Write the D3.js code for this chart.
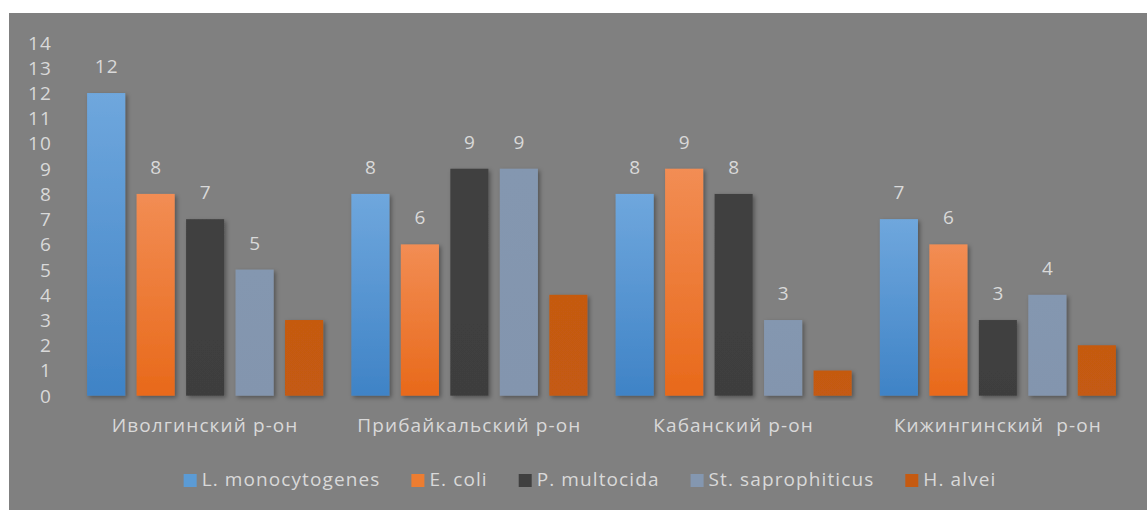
<!DOCTYPE html>
<html><head><meta charset="utf-8">
<script src="https://cdn.jsdelivr.net/npm/d3@7"></script>
<style>
html,body{margin:0;padding:0;background:#fff;}
svg{display:block;}
text{font-family:"Open Sans","Noto Sans",sans-serif;fill:#d9d9d9;letter-spacing:1.1px;}
</style></head>
<body>
<svg id="chart" width="1147" height="512"></svg>
<script>
const categories = ["Иволгинский р-он", "Прибайкальский р-он", "Кабанский р-он", "Кижингинский  р-он"];
const seriesNames = ["L. monocytogenes", "E. coli", "P. multocida", "St. saprophiticus", "H. alvei"];
const lMono = [12, 8, 8, 7];
const eColi = [8, 6, 9, 6];
const pMult = [7, 9, 8, 3];
const stSap = [5, 9, 3, 4];
const hAlvei = [3, 4, 1, 2];
const yTicks = [0,1,2,3,4,5,6,7,8,9,10,11,12,13,14];
const showLabels = [true, true, true, true, false];

const seriesValues = [lMono, eColi, pMult, stSap, hAlvei];
const colorsTop = ["#6fa7dd", "#f28d54", "#414141", "#8497b0", "#c55a11"];
const colorsBot = ["#3f83c6", "#e8691a", "#3e3e3e", "#8395ae", "#c45a12"];
const legendColors = ["#5b9bd5", "#ed7d31", "#404040", "#8497b0", "#c55a11"];

const svg = d3.select("#chart");
const W = 1147, H = 512;
const FS = 19;

// background panel
svg.append("rect").attr("x", 9).attr("y", 13).attr("width", W - 9).attr("height", 497).attr("fill", "#808080");

const defs = svg.append("defs");
seriesNames.forEach((s, i) => {
  const g = defs.append("linearGradient").attr("id", "g" + i).attr("x1", 0).attr("y1", 0).attr("x2", 0).attr("y2", 1);
  g.append("stop").attr("offset", "0%").attr("stop-color", colorsTop[i]);
  g.append("stop").attr("offset", "100%").attr("stop-color", colorsBot[i]);
});
const f = defs.append("filter").attr("id", "sh").attr("x", "-30%").attr("y", "-10%").attr("width", "160%").attr("height", "130%");
f.append("feDropShadow").attr("dx", 2).attr("dy", 2).attr("stdDeviation", 2).attr("flood-color", "#000").attr("flood-opacity", 0.35);

const x0 = d3.scaleBand().domain(categories).range([73, 1130]).padding(0);
const x1 = d3.scaleBand().domain(seriesNames).range([0, x0.bandwidth()]).paddingInner(0.23).paddingOuter(0.285);
const y = d3.scaleLinear().domain([0, 14]).range([395.7, 42.6]);

// y axis labels
const yAxis = d3.axisLeft(y).tickValues(yTicks).tickSize(0).tickPadding(0).tickFormat(d3.format("d"));
const ya = svg.append("g").attr("transform", "translate(52,0)").call(yAxis);
ya.select(".domain").remove();
ya.selectAll("text").attr("font-size", FS).attr("fill", "#d9d9d9").attr("font-family", "'Open Sans'").attr("dy", "0.34em");

// bars
const groups = svg.append("g").selectAll("g").data(categories).join("g")
  .attr("transform", d => `translate(${x0(d)},0)`);
groups.each(function(cat, ci) {
  const g = d3.select(this);
  seriesNames.forEach((s, si) => {
    const v = seriesValues[si][ci];
    g.append("rect")
      .attr("x", x1(s)).attr("y", y(v))
      .attr("width", x1.bandwidth()).attr("height", y(0) - y(v))
      .attr("fill", `url(#g${si})`).attr("filter", "url(#sh)");
    if (showLabels[si]) {
      g.append("text")
        .attr("x", x1(s) + x1.bandwidth() / 2 + 0.5).attr("y", y(v) - 20)
        .attr("text-anchor", "middle").attr("font-size", FS).text(v);
    }
  });
});

// category axis labels
const xAxis = d3.axisBottom(x0).tickSize(0).tickPadding(0);
const xa = svg.append("g").attr("transform", "translate(0,425.7)").call(xAxis);
xa.select(".domain").remove();
xa.selectAll("text").attr("font-size", FS).attr("fill", "#d9d9d9").attr("font-family", "'Open Sans'").attr("dy", "0.34em").style("white-space", "pre");

// legend
const leg = svg.append("g");
let cx = 0;
seriesNames.forEach((s, i) => {
  const it = leg.append("g");
  it.append("rect").attr("x", 0).attr("y", -6).attr("width", 13).attr("height", 13).attr("fill", legendColors[i]);
  const t = it.append("text").attr("x", 18).attr("y", 0).attr("dy", "0.34em").attr("font-size", FS).text(s);
  const w = 18 + t.node().getComputedTextLength();
  it.attr("transform", `translate(${cx},0)`);
  cx += w + 31;
});
const total = cx - 31;
leg.attr("transform", `translate(${590 - total / 2},480)`);
</script>
</body></html>
